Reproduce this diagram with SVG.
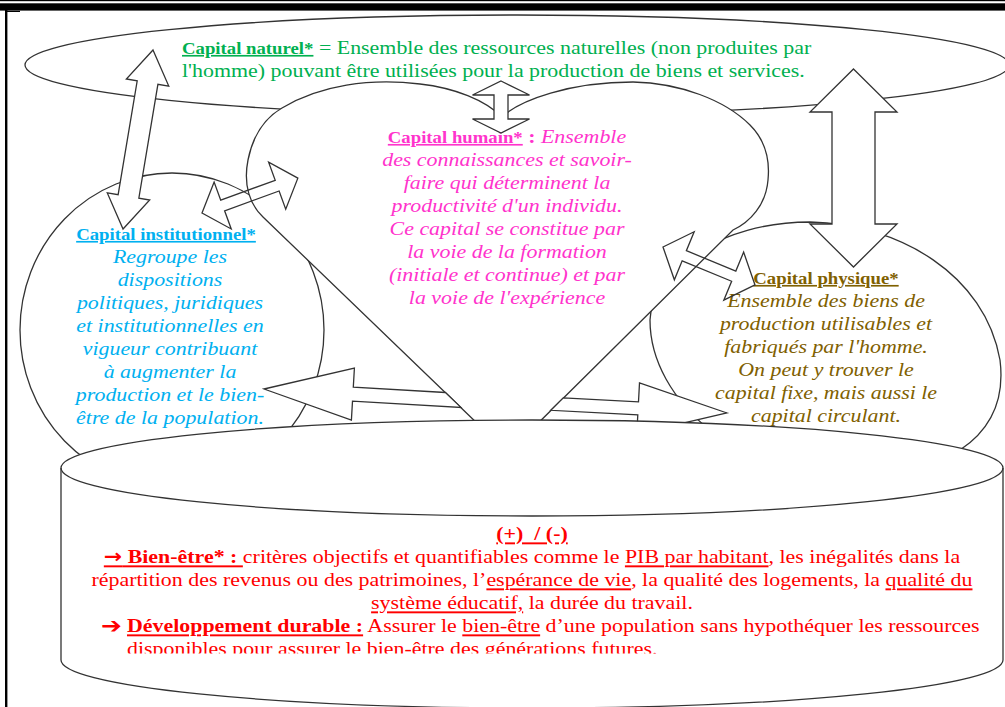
<svg xmlns="http://www.w3.org/2000/svg" width="1005" height="707" viewBox="0 0 1005 707">
<style>
.shape{fill:#fff;stroke:#333;stroke-width:1.3;stroke-linejoin:miter}
.outline{fill:none;stroke:#333;stroke-width:1.3}
.arrow{fill:#fff;stroke:#333;stroke-width:1.3;stroke-linejoin:miter}
.arrow-open{fill:none;stroke:#333;stroke-width:1.3;stroke-linejoin:miter}
.tx{font-family:"Liberation Serif","Times New Roman","DejaVu Serif",serif;font-size:19.4px}
.lb{font-size:16.6px;font-weight:bold;text-decoration:underline}
.it{font-style:italic}
.b{font-weight:bold}
.u{text-decoration:underline}
.sym{font-family:"DejaVu Sans","Liberation Sans",sans-serif;font-weight:bold}
.green{fill:#00B050}
.pink{fill:#FF33CC}
.blue{fill:#00B0F0}
.brown{fill:#7F6000}
.red{fill:#FF0000}
</style>
<defs>
<clipPath id="clipLast"><rect x="-200" y="0" width="2000" height="653.5"/></clipPath>
</defs>
<rect width="1005" height="707" fill="#fff"/>

<g id="capital-naturel">
<ellipse class="shape" cx="517" cy="65" rx="492" ry="50"/>
<g transform="translate(182 0) scale(1.13 1)">
<text class="tx green" x="0" y="54"><tspan class="lb">Capital naturel*</tspan> = Ensemble des ressources naturelles (non produites par</text>
<text class="tx green" x="0" y="77">l'homme) pouvant être utilisées pour la production de biens et services.</text>
</g>
</g>

<g id="capital-institutionnel">
<ellipse class="shape" cx="172" cy="330" rx="152" ry="157"/>
<g transform="translate(166 0) scale(1.13 1)">
<text class="tx blue lb" x="0" y="240" text-anchor="middle">Capital institutionnel*</text>
</g>
<g transform="translate(170 0) scale(1.13 1)" class="tx blue it" text-anchor="middle">
<text x="0" y="263">Regroupe les</text>
<text x="0" y="286">dispositions</text>
<text x="0" y="309">politiques, juridiques</text>
<text x="0" y="332">et institutionnelles en</text>
<text x="0" y="355">vigueur contribuant</text>
<text x="0" y="378">à augmenter la</text>
<text x="0" y="401">production et le bien-</text>
<text x="0" y="424">être de la population.</text>
</g>
</g>

<g id="capital-physique">
<path class="shape" d="M810,222 C900,224 985,275 1000,360 C1005,400 990,430 960,450 L900,490 L715,490 L712,432 C672,400 650,360 650,320 C652,270 720,222 810,222 Z"/>
<g transform="translate(826 0) scale(1.13 1)" class="tx brown" text-anchor="middle">
<text class="lb" x="0" y="284">Capital physique*</text>
<text class="it" x="0" y="307">Ensemble des biens de</text>
<text class="it" x="0" y="330">production utilisables et</text>
<text class="it" x="0" y="353">fabriqués par l'homme.</text>
<text class="it" x="0" y="376">On peut y trouver le</text>
<text class="it" x="0" y="399">capital fixe, mais aussi le</text>
<text class="it" x="0" y="422">capital circulant.</text>
</g>
</g>

<g id="capital-humain">
<path class="shape" d="M508,453 L263,217 C250,205 243,185 248,160 C253,135 265,118 282,108 C320,85 370,78 420,84 C455,88 485,100 502,117 C520,100 570,82 633,82 C680,83 725,100 750,125 C765,140 770,160 768,180 C766,205 750,222 733,230 Z"/>
<g transform="translate(507 0) scale(1.13 1)" class="tx pink" text-anchor="middle">
<text x="0" y="143"><tspan class="lb">Capital humain*</tspan><tspan class="b"> :</tspan><tspan class="it"> Ensemble</tspan></text>
<text class="it" x="0" y="166">des connaissances et savoir-</text>
<text class="it" x="0" y="189">faire qui déterminent la</text>
<text class="it" x="0" y="212">productivité d'un individu.</text>
<text class="it" x="0" y="235">Ce capital se constitue par</text>
<text class="it" x="0" y="258">la voie de la formation</text>
<text class="it" x="0" y="281">(initiale et continue) et par</text>
<text class="it" x="0" y="304">la voie de l'expérience</text>
</g>
</g>

<g id="connectors">
<polygon class="arrow" points="0,0 33,-21.5 33,-10.5 148.5,-10.5 148.5,-21.5 181.5,0 148.5,21.5 148.5,10.5 33,10.5 33,21.5" transform="translate(153 50) rotate(99.5)"/>
<polygon class="arrow" points="0,0 14,-28.5 14,-7 38,-7 38,-28.5 52,0 38,28.5 38,7 14,7 14,28.5" transform="translate(501 81) rotate(90)"/>
<polygon class="arrow" points="0,0 43,-43.5 43,-21.5 155,-21.5 155,-43.5 198,0 155,43.5 155,21.5 43,21.5 43,43.5" transform="translate(853.5 69) rotate(90)"/>
<polygon class="arrow-open" points="0,0 22,-25 22,-5.7 80,-5.7 80,-25 102,0 80,25 80,5.7 22,5.7 22,25" transform="translate(202 213) rotate(-20)"/>
<polygon class="arrow-open" points="0,0 23,-26 23,-5.5 76.5,-5.5 76.5,-26 99.5,0 76.5,26 76.5,5.5 23,5.5 23,26" transform="translate(663 247) rotate(22.4)"/>
<polygon class="arrow" points="264,389 354.4,368.2 353.3,387.1 445.4,392.5 460.9,407.4 352.5,401.1 351.4,420.1"/>
<polygon class="arrow" points="727,413 639.5,382.9 638.5,401.9 563.3,397.9 550.8,410.3 637.8,414.8 636.8,433.8"/>
</g>

<g id="bien-etre">
<path class="shape" d="M61,468 A471,48 0 0 1 1003,468 L1003,660 A471,48 0 0 1 61,660 Z"/>
<path class="outline" d="M61,468 A471,48 0 0 0 1003,468"/>
<g transform="translate(532 0) scale(1.13 1)" class="tx red" text-anchor="middle">
<text x="0" y="540.5"><tspan class="b u">(+)&#160; / (-)</tspan></text>
<text x="0" y="563.5"><tspan class="b u"><tspan class="sym">→</tspan> Bien-être* : </tspan>critères objectifs et quantifiables comme le <tspan class="u">PIB par habitant</tspan>, les inégalités dans la</text>
<text x="0" y="586.5">répartition des revenus ou des patrimoines, l’<tspan class="u">espérance de vie</tspan>, la qualité des logements, la <tspan class="u">qualité du</tspan></text>
<text x="0" y="609.5"><tspan class="u">système éducatif,</tspan> la durée du travail.</text>
</g>
<g transform="translate(101 0) scale(1.13 1)" class="tx red">
<text x="0" y="633"><tspan class="sym" style="font-size:22px">➔</tspan></text>
<text x="23" y="632.5"><tspan class="b u">Développement durable :</tspan> Assurer le <tspan class="u">bien-être</tspan> d’une population sans hypothéquer les ressources</text>
<text x="23" y="655" clip-path="url(#clipLast)">disponibles pour assurer le bien-être des générations futures.</text>
</g>
</g>

<g id="frame" fill="#000">
<rect x="0" y="0" width="1005" height="1.2"/>
<rect x="0" y="3.3" width="1005" height="7.3"/>
<rect x="5" y="10" width="2.4" height="697"/>
<rect x="7" y="10.8" width="13" height="1.2"/>
</g>
</svg>
